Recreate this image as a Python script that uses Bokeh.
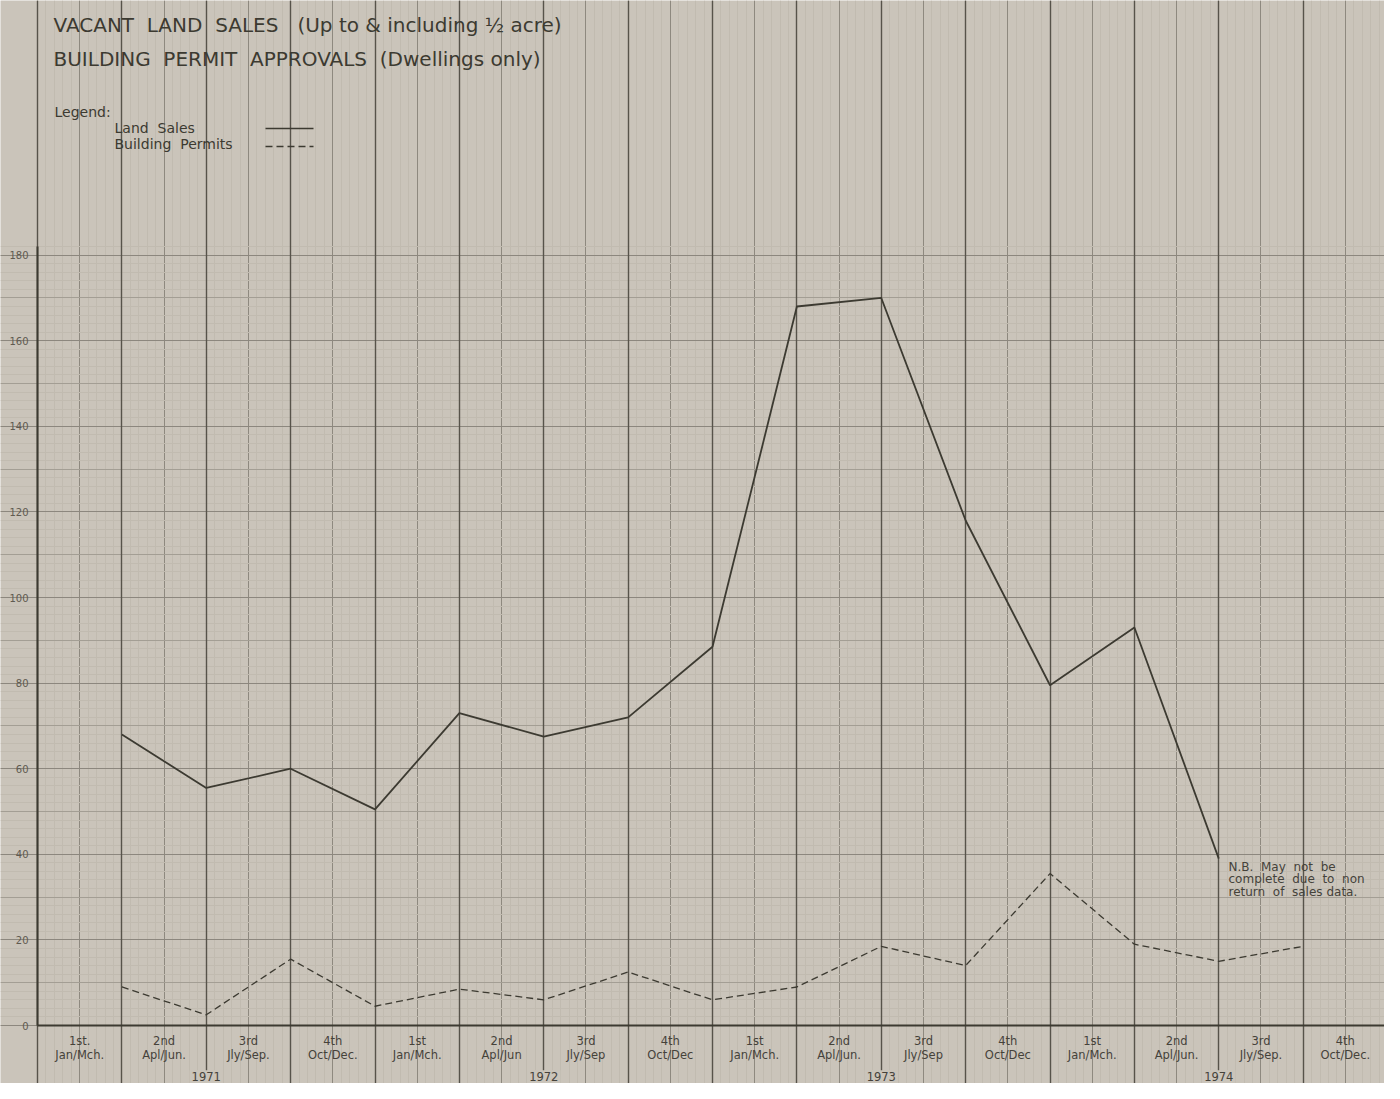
from bokeh.plotting import figure
from bokeh.models import (Range1d, LinearAxis, FixedTicker, Grid, SingleIntervalTicker,
                          Label, Arrow)
from bokeh.core.properties import value
from bokeh.embed import file_html
from bokeh.resources import INLINE

# ---------------- data ----------------
quarter_ordinals = ["1st.", "2nd", "3rd", "4th",
                    "1st", "2nd", "3rd", "4th",
                    "1st", "2nd", "3rd", "4th",
                    "1st", "2nd", "3rd", "4th"]
quarter_months = ["Jan/Mch.", "Apl/Jun.", "Jly/Sep.", "Oct/Dec.",
                  "Jan/Mch.", "Apl/Jun", "Jly/Sep", "Oct/Dec",
                  "Jan/Mch.", "Apl/Jun.", "Jly/Sep", "Oct/Dec",
                  "Jan/Mch.", "Apl/Jun.", "Jly/Sep.", "Oct/Dec."]
years = ["1971", "1972", "1973", "1974"]

# quarter-end position (index of quarter boundary) for each reading
land_quarter_end = [1, 2, 3, 4, 5, 6, 7, 8, 9, 10, 11, 12, 13, 14]
land_sales = [68, 55.5, 60, 50.5, 73, 67.5, 72, 88.5, 168, 170, 118, 79.5, 93, 39]

permit_quarter_end = [1, 2, 3, 4, 5, 6, 7, 8, 9, 10, 11, 12, 13, 14, 15]
building_permits = [9, 2.5, 15.5, 4.5, 8.5, 6, 12.5, 6, 9, 18.5, 14, 35.5, 19, 15, 18.5]

y_ticks = [0, 20, 40, 60, 80, 100, 120, 140, 160, 180]

# ---------------- styles ----------------
PAPER = "#cac4ba"
FINE = "#c1bbb0"
MED = "#a39e94"
DARK = "#8c877e"
HALF = "#8e897f"
QUART = "#57534a"
INK = "#3c3a31"
TXT = "#45423a"
FONT = "DejaVu Sans"
NB = "\u00a0"

W, H = 1384, 1083
p = figure(width=W, height=H, output_backend="svg", toolbar_location=None,
           x_axis_type=None, y_axis_type=None,
           x_range=Range1d(-0.4385, 15.964), y_range=Range1d(-13.55, 239.5),
           min_border=0, min_border_left=0, min_border_right=0,
           min_border_top=0, min_border_bottom=0)
p.background_fill_color = PAPER
p.border_fill_color = PAPER
p.outline_line_color = None
p.grid.visible = False

# graph-paper grid
g_fine_v = Grid(dimension=0, ticker=SingleIntervalTicker(interval=0.5, num_minor_ticks=5),
                grid_line_color=HALF, grid_line_width=1,
                minor_grid_line_color=FINE, minor_grid_line_width=1)
g_fine_h = Grid(dimension=1, ticker=SingleIntervalTicker(interval=10, num_minor_ticks=5),
                grid_line_color=MED, grid_line_width=1,
                minor_grid_line_color=FINE, minor_grid_line_width=1)
g_dark_h = Grid(dimension=1, ticker=SingleIntervalTicker(interval=20),
                grid_line_color=DARK, grid_line_width=1.2)
g_ink_v = Grid(dimension=0, ticker=SingleIntervalTicker(interval=1),
               grid_line_color=QUART, grid_line_width=1.4)
for g in (g_fine_v, g_fine_h, g_dark_h, g_ink_v):
    p.add_layout(g)

# y axis drawn at x = 0
yaxis = LinearAxis(fixed_location=0, ticker=FixedTicker(ticks=y_ticks),
                   bounds=(0, 182),
                   axis_line_color=INK, axis_line_width=2,
                   major_tick_line_color=None, minor_tick_line_color=None,
                   major_label_standoff=3,
                   major_label_text_font=FONT, major_label_text_font_size="10px",
                   major_label_text_color="#5f5a50")
p.add_layout(yaxis, "left")

# x axis drawn at y = 0 with quarter labels
mids = [i + 0.5 for i in range(len(quarter_ordinals))]
overrides = {m: f"{o}\n{mo}" for m, o, mo in zip(mids, quarter_ordinals, quarter_months)}
xaxis = LinearAxis(fixed_location=0, ticker=FixedTicker(ticks=mids),
                   bounds=(0, 16),
                   major_label_overrides=overrides,
                   axis_line_color=INK, axis_line_width=2,
                   major_tick_line_color=None, minor_tick_line_color=None,
                   major_label_standoff=2,
                   major_label_text_font=FONT, major_label_text_font_size="11.5px",
                   major_label_text_line_height=1.0,
                   major_label_text_color=TXT)
p.add_layout(xaxis, "below")

# year labels
year_x = [4 * i + 2 for i in range(len(years))]
p.text(x=year_x, y=[-12.0] * len(years), text=years,
       text_font=value(FONT), text_font_size="11.5px", text_color=TXT,
       text_align="center", text_baseline="middle",
       background_fill_color=PAPER, padding=2)

# data lines
p.line(land_quarter_end, land_sales, line_color=INK, line_width=1.8)
p.line(permit_quarter_end, building_permits, line_color=INK, line_width=1.3,
       line_dash="7 4")

# titles & legend (screen units; frame == canvas)
def lab(x, y, text, size, color=INK):
    p.add_layout(Label(x=x, y=y, x_units="screen", y_units="screen", text=text,
                       text_font=FONT, text_font_size=size, text_color=color,
                       text_align="left", text_baseline="middle"))

sp2 = " " + NB
lab(53, H - 24, f"VACANT{sp2}LAND{sp2}SALES{sp2}{NB}(Up to & including \u00bd acre)", "20px")
lab(53, H - 58, f"BUILDING{sp2}PERMIT{sp2}APPROVALS{sp2}(Dwellings only)", "20px")
lab(54, H - 111, "Legend:", "14px")
lab(114, H - 127, f"Land{sp2}Sales", "14px")
lab(114, H - 143, f"Building{sp2}Permits", "14px")
p.add_layout(Arrow(x_start=265, y_start=H - 128, x_end=313, y_end=H - 128,
                   start_units="screen", end_units="screen", end=None, start=None,
                   line_color=INK, line_width=1.5))
p.add_layout(Arrow(x_start=265, y_start=H - 146, x_end=313, y_end=H - 146,
                   start_units="screen", end_units="screen", end=None, start=None,
                   line_color=INK, line_width=1.5, line_dash="7 4"))

# note
lab(1228, H - 866, f"N.B.{sp2}May{sp2}not{sp2}be", "12px", TXT)
lab(1228, H - 878, f"complete{sp2}due{sp2}to{sp2}non", "12px", TXT)
lab(1228, H - 891, f"return{sp2}of{sp2}sales data.", "12px", TXT)

open("out.html", "w").write(file_html(p, INLINE))
